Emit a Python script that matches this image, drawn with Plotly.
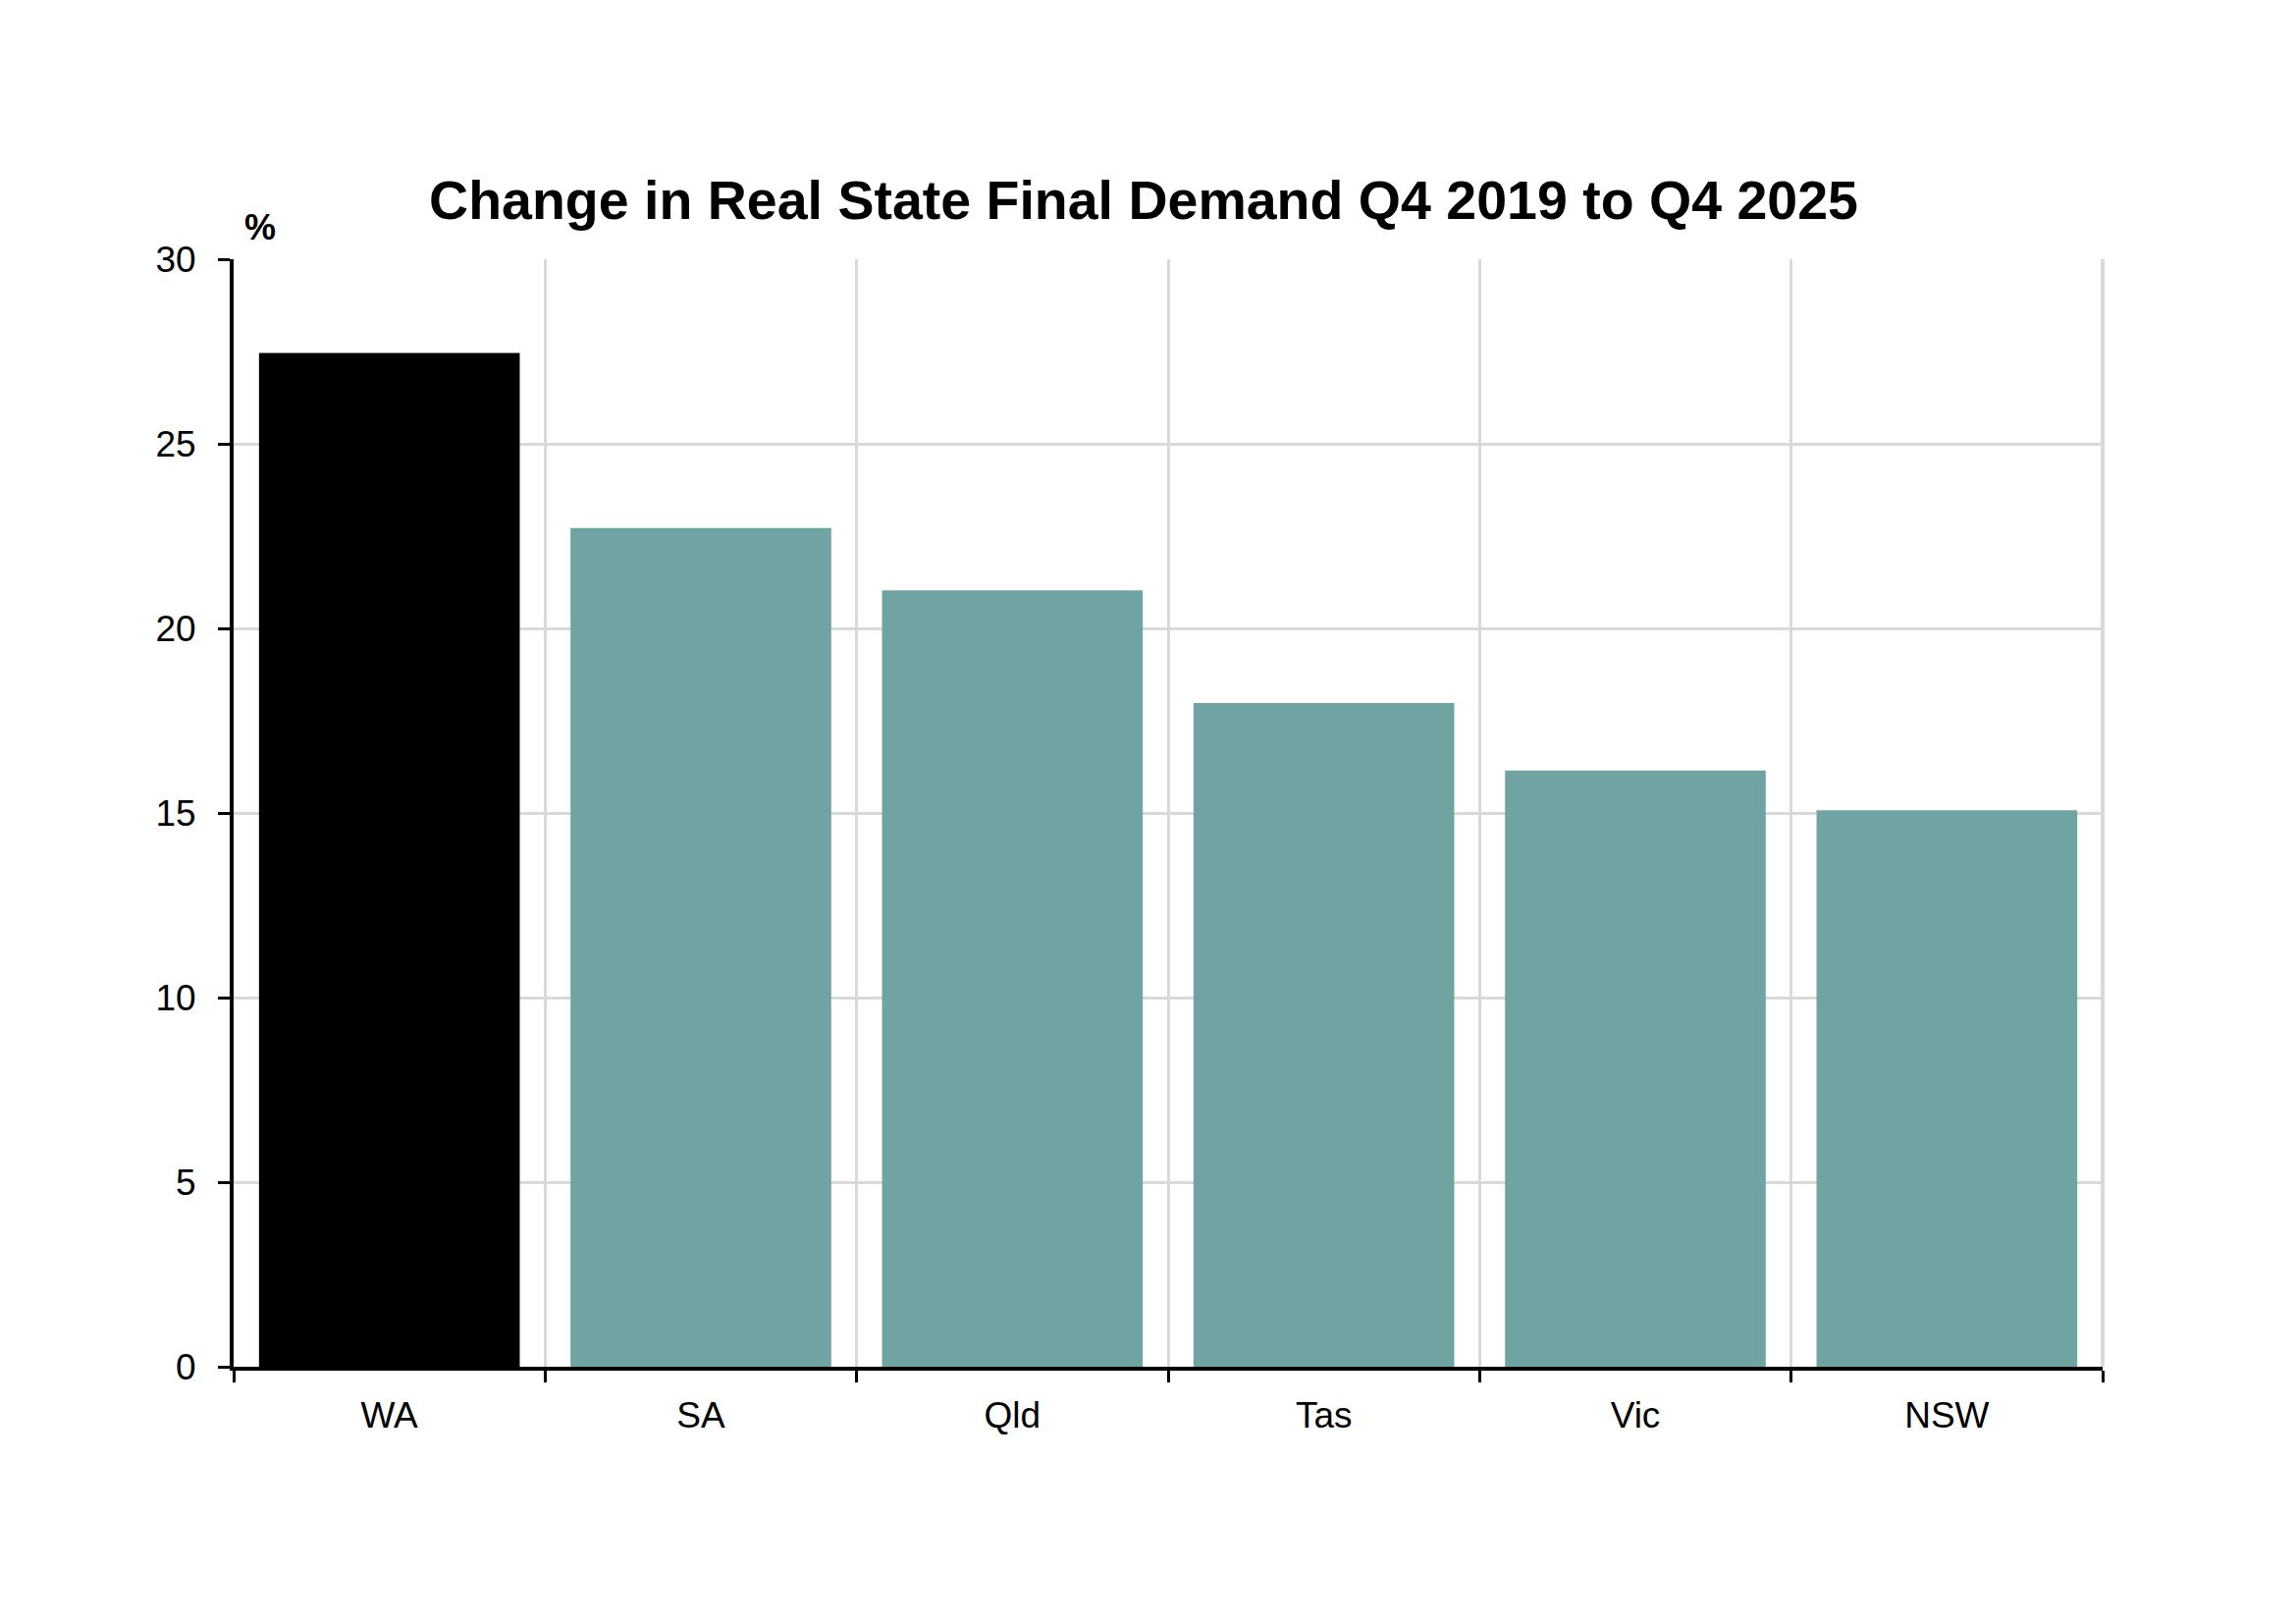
import plotly.graph_objects as go

states = ["WA", "SA", "Qld", "Tas", "Vic", "NSW"]
change_pct = [27.46, 22.72, 21.03, 17.98, 16.15, 15.07]
bar_colors = ["#000000", "#6FA4A3", "#6FA4A3", "#6FA4A3", "#6FA4A3", "#6FA4A3"]
y_ticks = [0, 5, 10, 15, 20, 25, 30]

W, H = 2339, 1654
ML, MR, MT, MB = 230, 205, 256, 270
FONT = "Arial, Liberation Sans, sans-serif"

fig = go.Figure(go.Bar(x=states, y=change_pct, marker=dict(color=bar_colors, line=dict(width=0)),
                       width=0.837))

fig.update_layout(
    width=W, height=H,
    margin=dict(l=ML, r=MR, t=MT, b=MB, pad=0),
    paper_bgcolor="white", plot_bgcolor="white",
    showlegend=False,
    font=dict(family=FONT, color="black", size=37),
    title=dict(text="<b>Change in Real State Final Demand Q4 2019 to Q4 2025</b>",
               x=1157 / W, xref="container", xanchor="center",
               y=1 - 196 / H, yref="container", yanchor="middle",
               font=dict(family=FONT, size=55.5, color="black")),
    xaxis=dict(range=[-0.5, 5.5], tickson="boundaries", showgrid=True, gridcolor="#D9D9D9",
               gridwidth=3, ticks="outside", ticklen=12, tickwidth=3, tickcolor="black",
               showline=True, linecolor="black", linewidth=4, zeroline=False,
               tickfont=dict(size=37), ticklabelstandoff=14, fixedrange=True),
    yaxis=dict(range=[0, 30], tickvals=y_ticks, showgrid=True, gridcolor="#D9D9D9", gridwidth=3,
               ticks="outside", ticklen=12, tickwidth=3, tickcolor="black",
               showline=True, linecolor="black", linewidth=4, zeroline=False,
               tickfont=dict(size=37), ticklabelstandoff=15, fixedrange=True),
    shapes=[dict(type="line", xref="paper", yref="paper", x0=1, x1=1, y0=0, y1=1,
                 line=dict(color="#D9D9D9", width=4), layer="below")],
    annotations=[dict(text="<b>%</b>", xref="paper", yref="paper",
                      x=(257 - ML) / (W - ML - MR), y=1 + (256 - 224) / (H - MT - MB),
                      xanchor="center", yanchor="middle", showarrow=False,
                      font=dict(family=FONT, size=36, color="black"))],
)

fig.write_html("out.html")
